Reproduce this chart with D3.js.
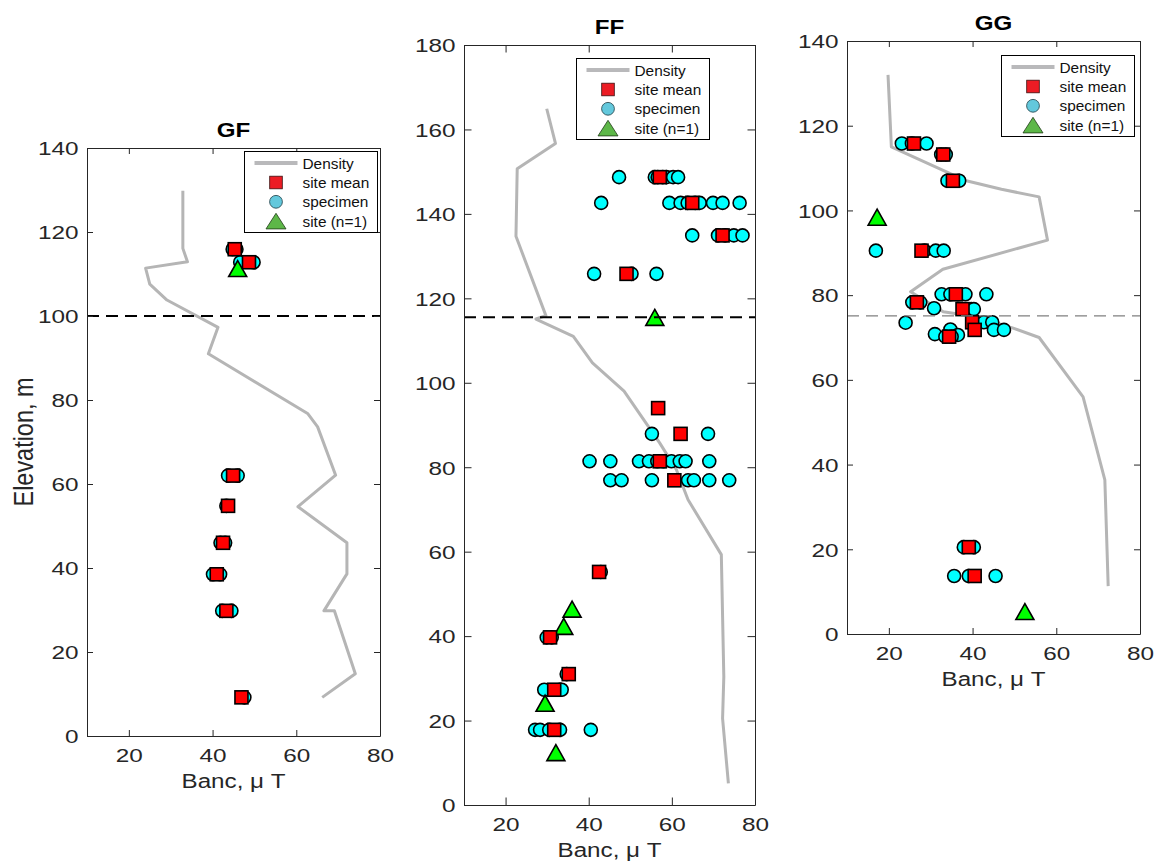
<!DOCTYPE html>
<html>
<head>
<meta charset="utf-8">
<script src="https://cdn.jsdelivr.net/npm/d3@7"></script>
<style>
  html, body { margin: 0; padding: 0; background: #fff; }
  svg { display: block; font-family: "Liberation Sans", Arial, Helvetica, sans-serif; }
</style>
</head>
<body>
<svg id="fig" width="1156" height="864"></svg>
<script>
// ---------- Section GF : [Banc (µT), elevation (m)] ----------
const gfDensity = [[32.9,129.8],[32.9,116.1],[34.0,112.9],[24.0,111.4],[25.0,107.6],[29.1,103.8],
  [41.3,97.3],[39.0,91.0],[62.7,76.8],[65.1,73.6],[69.4,62.1],[60.4,54.6],[72.1,46.0],[72.1,38.6],
  [66.6,29.8],[69.1,29.8],[74.1,14.8],[66.2,9.2]];
const gfSiteMean = [[45.3,115.9],[48.7,112.8],[44.9,62.0],[43.7,54.8],[42.5,46.0],[41.0,38.5],[43.3,29.8],[46.9,9.2]];
const gfSpecimen = [[44.8,115.9],[45.7,115.9],[46.6,112.8],[49.8,112.8],[43.7,62.0],[46.0,62.0],
  [43.3,54.8],[41.9,46.0],[43.0,46.0],[40.1,38.5],[41.8,38.5],[42.3,29.8],[44.5,29.8],[47.6,9.2]];
const gfSingle = [[46.0,111.3]];
const gfBoundary = 100;

// ---------- Section FF ----------
const ffDensity = [[29.9,164.9],[32.0,156.7],[22.8,150.7],[22.5,134.7],[29.7,115.9],[27.3,115.1],
  [36.3,111.0],[40.9,104.7],[48.5,98.0],[57.1,85.7],[61.1,79.4],[63.9,72.3],[71.9,59.3],[72.5,30.4],
  [72.2,20.5],[73.6,5.1]];
const ffSiteMean = [[57.1,148.7],[64.9,142.6],[72.2,134.9],[49.1,125.8],[56.7,94.0],[62.1,87.9],
  [57.1,81.4],[60.6,76.9],[42.5,55.2],[30.7,39.7],[35.2,31.0],[31.7,27.3],[31.7,17.8]];
const ffSpecimen = [
  [47.3,148.7],[55.9,148.7],[56.6,148.7],[57.8,148.7],[58.7,148.7],[60.3,148.7],[61.5,148.7],
  [43.0,142.6],[59.4,142.6],[62.1,142.6],[63.8,142.6],[65.6,142.6],[66.7,142.6],[69.9,142.6],[72.2,142.6],[76.3,142.6],
  [64.9,134.9],[71.1,134.9],[72.8,134.9],[74.9,134.9],[77.0,134.9],
  [41.3,125.8],[50.3,125.8],[56.3,125.8],
  [55.2,87.9],[68.7,87.9],
  [40.2,81.4],[45.2,81.4],[52.1,81.4],[54.5,81.4],[56.5,81.4],[58.0,81.4],[59.9,81.4],[61.9,81.4],[63.3,81.4],[69.0,81.4],
  [45.2,76.9],[47.9,76.9],[55.2,76.9],[63.9,76.9],[65.3,76.9],[69.0,76.9],[73.8,76.9],
  [42.9,55.2],
  [29.9,39.7],[31.1,39.7],
  [34.7,31.0],
  [29.3,27.3],[33.1,27.3],[33.5,27.3],
  [27.1,17.8],[28.3,17.8],[30.5,17.8],[33.1,17.8],[40.5,17.8]];
const ffSingle = [[55.9,115.5],[36.0,46.4],[34.0,42.3],[29.5,24.1],[32.1,12.4]];
const ffBoundary = 115.5;

// ---------- Section GG ----------
const ggDensity = [[19.8,132.0],[20.6,115.0],[38.5,107.0],[46.9,105.0],[55.9,103.2],[57.9,93.0],
  [32.9,86.1],[25.2,80.8],[33.0,76.1],[40.9,74.9],[49.7,72.2],[55.9,70.0],[66.4,56.0],[71.6,36.4],[72.4,11.3]];
const ggSiteMean = [[26.0,115.8],[33.0,113.2],[35.3,107.0],[27.8,90.5],[36.0,80.2],[26.7,78.3],
  [37.6,76.7],[39.9,73.6],[40.5,71.8],[34.4,70.2],[39.1,20.5],[40.5,13.7]];
const ggSpecimen = [
  [23.1,115.8],[25.5,115.8],[29.0,115.8],
  [32.5,113.2],[33.6,113.2],
  [34.0,107.0],[36.8,107.0],
  [16.9,90.5],[28.5,90.5],[31.2,90.5],[33.1,90.5],
  [32.6,80.2],[34.7,80.2],[36.5,80.2],[38.3,80.2],[43.3,80.2],
  [25.6,78.3],[27.5,78.3],[30.8,76.9],[39.7,76.7],[40.3,76.7],
  [24.0,73.5],[42.7,73.6],[44.7,73.6],[45.1,71.8],[47.5,71.8],
  [31.0,70.8],[34.7,71.9],[36.5,70.6],[33.5,70.2],[35.0,70.2],
  [37.9,20.5],[40.3,20.5],
  [35.6,13.7],[39.1,13.7],[45.5,13.7]];
const ggSingle = [[17.2,98.4],[52.5,5.3]];
const ggBoundary = 75.1;

// ---------- Shared axis text ----------
const bancDomain = [10, 80];
const bancTicks = [20, 40, 60, 80];
const elevTicks140 = [0, 20, 40, 60, 80, 100, 120, 140];
const elevTicks180 = [0, 20, 40, 60, 80, 100, 120, 140, 160, 180];
const legendLabels = ["Density", "site mean", "specimen", "site (n=1)"];
const xLabel = "Banc, \u03bc T";
const yLabel = "Elevation, m";

// ---------- Layout / style ----------
const panels = [
  { title: "GF", density: gfDensity, mean: gfSiteMean, spec: gfSpecimen, single: gfSingle,
    boundary: gfBoundary, boundaryColor: "#000", boundaryWidth: 2,
    elevMax: 140, elevTicks: elevTicks140,
    box: { left: 87, right: 380, top: 148, bottom: 736 }, tick: 6,
    legend: { x: 244.5, y: 151.5 }, yLabel: true },
  { title: "FF", density: ffDensity, mean: ffSiteMean, spec: ffSpecimen, single: ffSingle,
    boundary: ffBoundary, boundaryColor: "#000", boundaryWidth: 2,
    elevMax: 180, elevTicks: elevTicks180,
    box: { left: 464, right: 755, top: 45, bottom: 805 }, tick: 7.5,
    legend: { x: 576.5, y: 58.5 }, yLabel: false },
  { title: "GG", density: ggDensity, mean: ggSiteMean, spec: ggSpecimen, single: ggSingle,
    boundary: ggBoundary, boundaryColor: "#808080", boundaryWidth: 1.3,
    elevMax: 140, elevTicks: elevTicks140,
    box: { left: 847, right: 1140, top: 41, bottom: 634 }, tick: 6,
    legend: { x: 1001.5, y: 55.5 }, yLabel: false }
];

const INK = "#262626";
const TICK_FONT = 19;
const TICK_STRETCH = 1.28;
const svg = d3.select("#fig");

function styleAxis(sel) {
  sel.attr("font-family", null).attr("font-size", null);
  sel.select(".domain").attr("stroke", INK).attr("stroke-width", 1);
  sel.selectAll(".tick line").attr("stroke", INK).attr("stroke-width", 1);
  sel.selectAll(".tick text").attr("fill", INK).attr("font-size", TICK_FONT);
}

function trianglePath(cx, cy) {
  const hw = 9, hh = 8;
  return `M${cx},${cy - hh}L${cx + hw},${cy + hh}L${cx - hw},${cy + hh}Z`;
}

function drawLegend(g, L, T) {
  const rows = [11.6, 31, 50.3, 69.6];
  g.append("rect").attr("x", L).attr("y", T).attr("width", 133).attr("height", 81)
    .attr("fill", "#fff").attr("stroke", "#000").attr("stroke-width", 1);
  g.append("line").attr("x1", L + 10).attr("x2", L + 53).attr("y1", T + rows[0]).attr("y2", T + rows[0])
    .attr("stroke", "#b9b9bb").attr("stroke-width", 4);
  const mx = L + 31.5;
  g.append("rect").attr("x", mx - 6.3).attr("y", T + rows[1] - 6.3).attr("width", 12.6).attr("height", 12.6)
    .attr("fill", "#ec1c24").attr("stroke", "#3a1010").attr("stroke-width", 0.8);
  g.append("circle").attr("cx", mx).attr("cy", T + rows[2]).attr("r", 6.4)
    .attr("fill", "#63c8dc").attr("stroke", "#1d3c44").attr("stroke-width", 0.8);
  g.append("path").attr("d", `M${mx},${T + rows[3] - 7.8}L${mx + 10},${T + rows[3] + 7.8}L${mx - 10},${T + rows[3] + 7.8}Z`)
    .attr("fill", "#5db748").attr("stroke", "#1f3a16").attr("stroke-width", 0.8);
  g.selectAll("text.leg").data(legendLabels).join("text").attr("class", "leg")
    .attr("x", L + 58).attr("y", (d, i) => T + rows[i] + 5.5)
    .attr("font-size", 15.4).attr("fill", "#111").text(d => d);
}

panels.forEach(p => {
  const x = d3.scaleLinear().domain(bancDomain).range([p.box.left, p.box.right]);
  const y = d3.scaleLinear().domain([0, p.elevMax]).range([p.box.bottom, p.box.top]);
  const g = svg.append("g");

  // density profile
  g.append("path").datum(p.density)
    .attr("d", d3.line().x(d => x(d[0])).y(d => y(d[1])))
    .attr("fill", "none").attr("stroke", "#b5b5b5").attr("stroke-width", 3)
    .attr("stroke-linejoin", "round");

  // specimens
  g.selectAll("circle.spec").data(p.spec).join("circle").attr("class", "spec")
    .attr("cx", d => x(d[0])).attr("cy", d => y(d[1])).attr("r", 6.5)
    .attr("fill", "#00ffff").attr("stroke", "#000").attr("stroke-width", 1.6);

  // single-specimen sites
  g.selectAll("path.single").data(p.single).join("path").attr("class", "single")
    .attr("d", d => trianglePath(x(d[0]), y(d[1])))
    .attr("fill", "#00ff00").attr("stroke", "#000").attr("stroke-width", 1.6)
    .attr("stroke-linejoin", "miter");

  // site means
  g.selectAll("rect.mean").data(p.mean).join("rect").attr("class", "mean")
    .attr("x", d => x(d[0]) - 6.5).attr("y", d => y(d[1]) - 6.5)
    .attr("width", 13).attr("height", 13)
    .attr("fill", "#ff0000").attr("stroke", "#000").attr("stroke-width", 1.6);

  // boundary level
  g.append("line").attr("x1", x(bancDomain[0])).attr("x2", x(bancDomain[1]))
    .attr("y1", y(p.boundary)).attr("y2", y(p.boundary))
    .attr("stroke", p.boundaryColor).attr("stroke-width", p.boundaryWidth)
    .attr("stroke-dasharray", "12,7");

  // axes (ticks pointing inward on all four sides)
  const bottom = g.append("g").attr("transform", `translate(0,${p.box.bottom})`)
    .call(d3.axisBottom(x).tickValues(bancTicks).tickSizeInner(-p.tick).tickSizeOuter(0));
  styleAxis(bottom);
  bottom.selectAll(".tick text").attr("y", 26.5).attr("dy", null)
    .attr("transform", `scale(${TICK_STRETCH},1)`);

  const left = g.append("g").attr("transform", `translate(${p.box.left},0)`)
    .call(d3.axisLeft(y).tickValues(p.elevTicks).tickSizeInner(-p.tick).tickSizeOuter(0));
  styleAxis(left);
  left.selectAll(".tick text").attr("x", -8.5 / TICK_STRETCH).attr("dy", "0.36em")
    .attr("transform", `scale(${TICK_STRETCH},1)`);

  const top = g.append("g").attr("transform", `translate(0,${p.box.top})`)
    .call(d3.axisTop(x).tickValues(bancTicks).tickSizeInner(-p.tick).tickSizeOuter(0).tickFormat(""));
  styleAxis(top);

  const right = g.append("g").attr("transform", `translate(${p.box.right},0)`)
    .call(d3.axisRight(y).tickValues(p.elevTicks).tickSizeInner(-p.tick).tickSizeOuter(0).tickFormat(""));
  styleAxis(right);

  const cx = (p.box.left + p.box.right) / 2;

  // title
  g.append("text")
    .attr("transform", `translate(${cx},${p.box.top - 11.5}) scale(1.15,1)`)
    .attr("text-anchor", "middle").attr("font-weight", "bold").attr("font-size", 21)
    .attr("fill", "#000").text(p.title);

  // x label
  g.append("text")
    .attr("transform", `translate(${cx},${p.box.bottom + 52})`)
    .attr("text-anchor", "middle").attr("font-size", 20).attr("fill", INK)
    .attr("textLength", 104).attr("lengthAdjust", "spacingAndGlyphs")
    .text(xLabel);

  // y label
  if (p.yLabel) {
    g.append("text")
      .attr("transform", `translate(33,${(p.box.top + p.box.bottom) / 2}) scale(1.28,1) rotate(-90)`)
      .attr("text-anchor", "middle").attr("font-size", 21.5).attr("fill", INK)
      .attr("textLength", 129).attr("lengthAdjust", "spacingAndGlyphs")
      .text(yLabel);
  }

  drawLegend(g, p.legend.x, p.legend.y);
});
</script>
</body>
</html>
